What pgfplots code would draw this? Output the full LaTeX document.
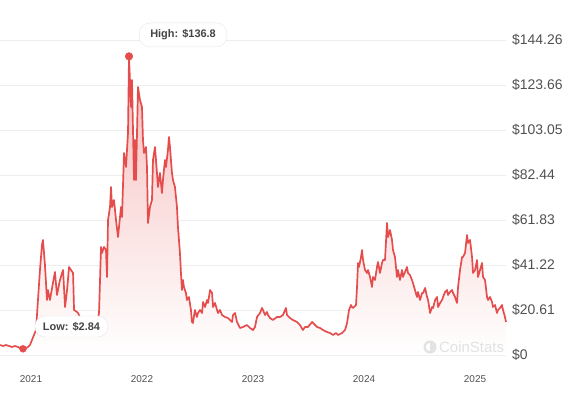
\documentclass[border=0pt]{standalone}
\usepackage{pgfplots}
\usepackage{pgfplotstable}
\pgfplotsset{compat=1.18}
\usepackage{fontspec}
\setmainfont{Liberation Sans}
\definecolor{linered}{RGB}{229,76,76}
\definecolor{fillred}{RGB}{246,188,188}
\definecolor{gridgray}{RGB}{238,238,238}
\definecolor{labelgray}{RGB}{68,68,68}
\definecolor{tickgray}{RGB}{80,80,80}
\definecolor{boxgray}{RGB}{230,230,230}
\definecolor{wmgray}{RGB}{226,226,226}

\pgfplotstableread{
year price
2020.721 4.58
2020.748 4.12
2020.775 4.58
2020.802 4.12
2020.829 3.66
2020.856 4.12
2020.883 3.66
2020.901 3.21
2020.928 2.84
2020.955 3.20
2020.973 3.66
2020.991 4.58
2021.009 6.87
2021.027 9.16
2021.045 11.45
2021.063 25.20
2021.081 38.94
2021.099 50.39
2021.108 52.68
2021.126 41.23
2021.144 25.20
2021.153 29.78
2021.171 25.20
2021.198 32.98
2021.216 38.02
2021.234 27.49
2021.261 34.36
2021.289 38.94
2021.307 21.99
2021.325 29.78
2021.343 40.31
2021.361 38.94
2021.379 37.56
2021.388 20.61
2021.415 19.70
2021.424 19.24
2021.460 15.12
2021.496 13.74
2021.532 13.28
2021.568 13.74
2021.595 15.12
2021.613 19.24
2021.631 49.47
2021.640 46.73
2021.658 49.47
2021.676 48.10
2021.685 35.73
2021.694 61.84
2021.712 67.80
2021.721 76.96
2021.730 67.80
2021.748 71.01
2021.766 61.84
2021.784 54.06
2021.793 58.64
2021.811 67.80
2021.820 63.22
2021.838 92.54
2021.856 86.12
2021.874 101.70
2021.883 136.80
2021.901 113.61
2021.910 125.98
2021.928 80.17
2021.937 98.49
2021.946 80.17
2021.964 122.77
2021.982 116.82
2022.000 113.61
2022.009 98.49
2022.018 92.54
2022.036 95.28
2022.045 86.12
2022.054 60.47
2022.072 67.80
2022.090 71.01
2022.099 89.33
2022.117 95.28
2022.126 89.33
2022.135 83.38
2022.144 76.96
2022.162 83.38
2022.180 74.21
2022.189 80.17
2022.207 89.33
2022.216 86.12
2022.234 93.91
2022.243 99.86
2022.252 95.28
2022.270 83.38
2022.279 80.17
2022.297 76.96
2022.315 67.80
2022.324 58.64
2022.342 46.73
2022.351 37.56
2022.360 29.78
2022.369 34.36
2022.378 31.15
2022.396 28.40
2022.405 25.20
2022.423 26.57
2022.441 20.61
2022.450 15.12
2022.459 14.66
2022.477 20.61
2022.495 17.41
2022.504 19.24
2022.523 20.61
2022.541 19.24
2022.550 24.28
2022.568 21.99
2022.586 25.20
2022.595 23.82
2022.613 29.78
2022.631 28.40
2022.640 21.99
2022.658 23.82
2022.676 20.61
2022.685 19.24
2022.703 20.61
2022.721 18.32
2022.748 17.41
2022.775 16.95
2022.811 15.12
2022.820 18.32
2022.838 19.24
2022.856 15.12
2022.883 12.37
2022.910 12.83
2022.946 13.74
2022.973 12.37
2023.000 11.45
2023.018 12.83
2023.036 17.41
2023.063 19.24
2023.081 21.53
2023.090 20.61
2023.108 18.32
2023.126 19.70
2023.135 18.32
2023.153 16.95
2023.180 16.03
2023.216 17.41
2023.243 17.41
2023.270 18.32
2023.297 21.53
2023.306 18.32
2023.333 16.95
2023.360 16.03
2023.396 15.12
2023.423 13.74
2023.450 11.45
2023.468 12.83
2023.495 12.83
2023.532 15.12
2023.541 14.66
2023.577 12.83
2023.604 12.37
2023.631 11.45
2023.667 10.54
2023.694 10.08
2023.721 9.16
2023.748 10.08
2023.766 9.16
2023.802 10.08
2023.829 11.45
2023.847 14.66
2023.865 20.61
2023.883 22.90
2023.892 21.99
2023.901 21.53
2023.928 22.90
2023.937 31.15
2023.946 42.15
2023.955 40.31
2023.973 44.89
2023.982 48.10
2023.991 43.52
2024.009 38.94
2024.027 37.56
2024.036 38.94
2024.054 35.73
2024.072 31.15
2024.081 35.73
2024.099 34.36
2024.117 40.31
2024.126 42.60
2024.144 37.56
2024.162 42.15
2024.171 43.52
2024.189 43.52
2024.207 60.47
2024.216 54.06
2024.234 57.26
2024.252 52.68
2024.261 48.10
2024.279 44.89
2024.297 35.73
2024.306 38.94
2024.324 34.36
2024.342 38.94
2024.351 35.73
2024.369 38.02
2024.387 40.31
2024.396 37.56
2024.414 36.65
2024.432 34.36
2024.441 32.98
2024.459 29.78
2024.477 26.57
2024.486 28.86
2024.505 25.20
2024.523 28.40
2024.532 28.40
2024.550 30.69
2024.568 26.57
2024.577 25.20
2024.595 19.24
2024.613 21.99
2024.622 21.53
2024.640 25.20
2024.658 26.57
2024.667 21.99
2024.685 23.82
2024.703 25.20
2024.712 26.57
2024.730 28.86
2024.748 29.78
2024.757 27.49
2024.775 28.86
2024.793 29.78
2024.802 28.40
2024.820 26.57
2024.838 23.82
2024.847 31.15
2024.865 38.94
2024.883 44.89
2024.892 44.89
2024.910 46.73
2024.928 54.97
2024.937 51.31
2024.955 52.68
2024.973 44.89
2024.982 37.56
2025.000 38.94
2025.018 43.52
2025.027 35.73
2025.045 38.94
2025.063 42.15
2025.072 35.73
2025.090 34.36
2025.108 26.57
2025.117 25.20
2025.135 26.57
2025.153 24.28
2025.162 21.99
2025.180 22.90
2025.198 19.24
2025.207 20.61
2025.225 21.53
2025.243 22.90
2025.252 20.61
2025.270 17.41
2025.279 15.12
}\pricedata

\begin{document}
\begin{tikzpicture}
\useasboundingbox (0,0) rectangle (568bp,-394bp);
\begin{axis}[
  at={(0,0)}, anchor=north west,
  scale only axis, width=506bp, height=355bp,
  xmin=2020.721, xmax=2025.279,
  ymin=0, ymax=162.6,
  axis line style={draw=none},
  ymajorgrids, grid style={gridgray, line width=0.8pt},
  ytick={0,20.61,41.22,61.83,82.44,103.05,123.66,144.26},
  yticklabels={\$0,\$20.61,\$41.22,\$61.83,\$82.44,\$103.05,\$123.66,\$144.26},
  yticklabel pos=right,
  yticklabel style={anchor=west, inner sep=0pt, xshift=6bp, font=\fontsize{14}{14}\selectfont, text=tickgray},
  xtick={2021,2022,2023,2024,2025},
  xticklabels={2021,2022,2023,2024,2025},
  xticklabel style={anchor=base, inner sep=0pt, yshift=-27bp, font=\fontsize{10}{10}\selectfont, text=tickgray},
  major tick length=0pt,
  tick style={draw=none},
  clip=false,
]
\addplot[draw=none, top color=fillred, bottom color=white, forget plot] table[x=year, y=price] {\pricedata} \closedcycle;
\addplot[linered, line width=1.7pt, line join=round] table[x=year, y=price] {\pricedata};
\addplot[only marks, mark=*, mark size=3.8bp, color=linered] coordinates {(2021.883,136.8)};
\addplot[only marks, mark=*, mark size=3.5bp, color=linered] coordinates {(2020.928,2.84)};
\node[draw=boxgray, fill=white, rounded corners=11bp, minimum width=88bp, minimum height=24bp, inner sep=0pt, font=\bfseries\fontsize{11}{11}\selectfont, text=labelgray] at (axis cs:2022.370,146.6) {High: \$136.8};
\node[draw=boxgray, fill=white, rounded corners=10bp, minimum width=73bp, minimum height=21bp, inner sep=0pt, font=\bfseries\fontsize{11}{11}\selectfont, text=labelgray] at (axis cs:2021.365,13.06) {Low: \$2.84};
\end{axis}
\fill[wmgray] (430bp,-347bp) circle (6.5bp);
\fill[white] (430bp,-347bp) circle (4.2bp);
\fill[wmgray] (430bp,-347bp) -- ++(90:4.3bp) arc (90:-90:4.3bp) -- cycle;
\node[anchor=west, inner sep=0pt, text=wmgray, font=\fontsize{15}{15}\selectfont] at (439bp,-347bp) {CoinStats};
\end{tikzpicture}
\end{document}
